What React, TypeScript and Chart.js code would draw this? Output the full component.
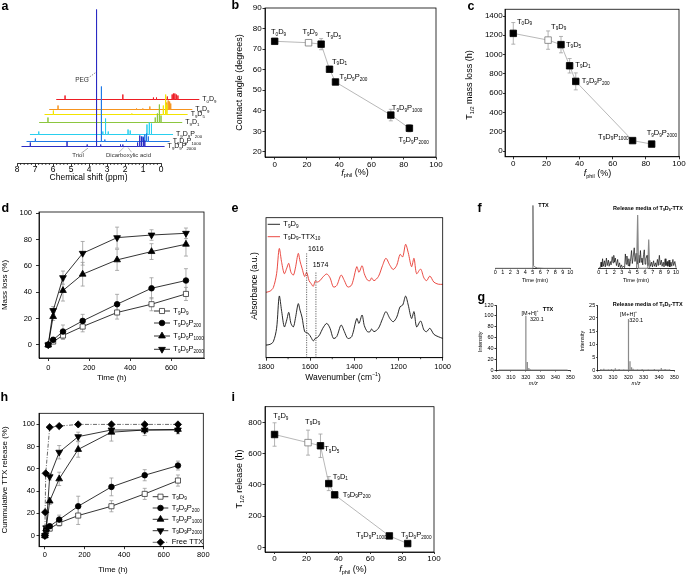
import React, { useEffect, useRef } from 'react';
import { Chart, registerables } from 'chart.js';

Chart.register(...registerables);

const FONT = '"Liberation Sans", Arial, Helvetica, sans-serif';

/* ================= DATA ================= */

/* ---- a : 1H NMR waterfall (bottom trace first) ---- */
const nmrSamples = ['T_{9}D_{9}P_{2000}', 'T_{9}D_{9}P_{1000}', 'T_{9}D_{9}P_{200}', 'T_{9}D_{1}', 'T_{9}D_{5}', 'T_{9}D_{9}', 'T_{0}D_{9}'];
const nmrShiftPpm = [0, 0.28, 0.47, 0.98, 1.28, 1.54, 1.93];
const nmrBaseline = [17, 22, 29, 41, 49, 54, 64];
const nmrSpan = [7.75, -0.2];
const nmrPeaksP2000 = [[7.26, 4], [5.22, 5], [4.1, 2], [3.58, 137], [3.35, 2], [2.25, 2], [2.12, 2], [1.3, 4], [1.18, 11], [1.08, 10], [0.98, 9], [0.9, 6]];
const nmrPeaksP1000 = [[7.26, 3], [3.59, 55], [3.4, 2], [2.2, 2], [1.28, 5], [1.18, 7], [1.08, 8], [0.98, 5]];
const nmrPeaksP200 = [[7.26, 3], [3.7, 3], [3.55, 16], [3.4, 3], [2.3, 5], [2.18, 4], [1.25, 10], [1.12, 12], [1.0, 11]];
const nmrPeaksT9D1 = [[7.26, 5], [1.3, 5], [1.18, 9], [1.07, 18], [0.98, 7]];
const nmrPeaksT9D5 = [[7.26, 4], [2.9, 1], [1.15, 9], [1.02, 20], [0.95, 10]];
const nmrPeaksT9D9 = [[7.26, 4], [2.9, 1], [2.55, 1], [2.16, 3], [1.22, 7], [1.14, 9], [1.06, 8], [1.0, 6]];
const nmrPeaksT0D9 = [[7.26, 4], [4.05, 5], [2.35, 2], [2.18, 2], [1.58, 3], [1.31, 5], [1.24, 6], [1.16, 6], [1.08, 5], [0.99, 4]];
const nmrPeakSets = [nmrPeaksP2000, nmrPeaksP1000, nmrPeaksP200, nmrPeaksT9D1, nmrPeaksT9D5, nmrPeaksT9D9, nmrPeaksT0D9];

/* ---- b, c, i ---- */
const sampleNames = ['T_{0}D_{9}', 'T_{9}D_{9}', 'T_{9}D_{5}', 'T_{9}D_{1}', 'T_{9}D_{9}P_{200}', 'T_{9}D_{9}P_{1000}', 'T_{9}D_{9}P_{2000}'];
const fPhil = [0, 21, 28.8, 34, 37.7, 72, 83.5];
const contactAngle = [73.8, 73.1, 72.4, 60.2, 54.0, 37.9, 31.5];
const contactAngleErr = [0.8, 0.8, 2.7, 0.8, 1.2, 2.8, 1.8];
const t12MassLoss = [1220, 1150, 1103, 884, 722, 108, 72];
const t12MassLossErr = [112, 95, 85, 75, 88, 12, 8];
const t12Release = [722, 670, 650, 408, 336, 73, 24];
const t12ReleaseErr = [75, 80, 75, 45, 15, 8, 6];

/* ---- d : mass loss ---- */
const massTimeH = [0, 24, 72, 168, 336, 504, 672];
const massLossT9D9 = [0, 2.5, 7.1, 13.9, 24.6, 30.9, 38.7];
const massLossP200 = [0, 3.8, 10.1, 18.2, 30.9, 43.0, 48.9];
const massLossP1000 = [0, 21.5, 41.3, 53.7, 64.6, 70.9, 76.5];
const massLossP2000 = [0, 26.1, 51.1, 69.6, 81.5, 83.5, 84.8];
const massErrT9D9 = [0.5, 1.5, 3, 4, 5, 5, 5];
const massErrP200 = [0.5, 2, 5, 5, 7.5, 8, 9];
const massErrP1000 = [0.5, 3, 8, 9, 8, 6, 9];
const massErrP2000 = [0.5, 3, 5, 9, 8, 4, 4];
const legendNames = ['T_{9}D_{9}', 'T_{9}D_{9}P_{200}', 'T_{9}D_{9}P_{1000}', 'T_{9}D_{9}P_{2000}', 'Free TTX'];

/* ---- e : FTIR ---- */
const irBlack = [[1800, 9], [1782, 9.5], [1767, 11.4], [1752, 21], [1740, 44], [1729, 33], [1717, 22], [1706, 27], [1697, 32.4], [1687, 24.5], [1676, 22], [1667, 28], [1654, 38.6], [1646, 34], [1637, 29], [1625, 18.6], [1616, 18], [1605, 16.7], [1596, 14.5], [1586, 12], [1577, 13.8], [1568, 14.3], [1556, 16.7], [1543, 21], [1525, 24.5], [1510, 21], [1495, 13.8], [1480, 15], [1460, 23.3], [1445, 18.6], [1430, 13.8], [1412, 15], [1389, 28], [1379, 24.5], [1365, 30.5], [1355, 23], [1341, 18.6], [1329, 18.6], [1322, 20.5], [1311, 18.6], [1291, 21], [1272, 28], [1257, 32.9], [1239, 28], [1224, 25.7], [1208, 29], [1193, 36.4], [1181, 37.6], [1168, 44], [1156, 37.6], [1141, 28], [1130, 32.9], [1118, 22], [1100, 26.2], [1085, 19.8], [1073, 18.6], [1058, 21], [1040, 16.7], [1020, 15], [1000, 13.8]];
const irRed = [[1800, 46.7], [1782, 47.5], [1767, 50], [1752, 60], [1740, 78], [1729, 68], [1717, 60], [1706, 64], [1697, 67.4], [1687, 61], [1676, 59], [1667, 64], [1654, 74.5], [1646, 69], [1637, 64], [1625, 58], [1616, 61], [1605, 55], [1596, 53], [1586, 51], [1577, 54.8], [1568, 54], [1556, 55], [1543, 57.5], [1525, 59.8], [1510, 57], [1495, 50.5], [1480, 51.5], [1460, 59], [1445, 55], [1430, 50.5], [1412, 52], [1389, 65], [1379, 61], [1365, 65.7], [1355, 60], [1341, 55.5], [1329, 55], [1322, 57], [1311, 55], [1291, 58], [1272, 66], [1257, 71], [1239, 66], [1224, 63], [1208, 66], [1193, 73.8], [1181, 72], [1168, 81], [1156, 75], [1141, 65], [1130, 71], [1118, 60], [1100, 63.3], [1085, 57], [1073, 55], [1058, 58.3], [1040, 54], [1020, 52.5], [1000, 52.4]];
const irMarks = [1616, 1574];
const irMarkTop = [74.5, 61.4];

/* ---- f : chromatograms ---- */
const fTTX = [[0, 0], [4.95, 0], [5.02, 92], [5.1, 4], [5.25, 2], [5.6, 0.5], [6.5, 0], [10, 0]];
const fReleaseMain = [[4.9, 0], [5.04, 78], [5.15, 0], [6.35, 0], [6.47, 42], [6.58, 0]];
const fReleaseNoise = [[0, 0], [0.2, 1], [0.3, 9], [0.4, 2], [0.5, 14], [0.6, 3], [0.75, 11], [0.85, 2], [1.0, 15], [1.1, 4], [1.25, 12], [1.35, 3], [1.5, 10], [1.6, 5], [1.75, 17], [1.85, 8], [1.95, 19], [2.05, 9], [2.15, 15], [2.3, 4], [2.45, 13], [2.55, 2], [2.7, 8], [2.8, 1], [2.95, 5], [3.05, 1], [3.2, 3], [3.35, 1], [3.45, 21], [3.55, 6], [3.65, 18], [3.8, 4], [3.9, 14], [4.0, 3], [4.1, 10], [4.25, 26], [4.35, 7], [4.45, 16], [4.6, 30], [4.7, 10], [4.85, 22], [4.95, 6], [5.2, 19], [5.3, 8], [5.4, 26], [5.5, 9], [5.6, 15], [5.7, 5], [5.8, 20], [5.9, 27], [6.0, 6], [6.1, 14], [6.25, 19], [6.35, 4], [6.6, 12], [6.7, 3], [6.85, 9], [6.95, 2], [7.1, 11], [7.2, 3], [7.35, 8], [7.45, 2], [7.6, 13], [7.7, 4], [7.85, 19], [7.95, 5], [8.1, 12], [8.2, 3], [8.35, 9], [8.45, 2], [8.6, 14], [8.7, 4], [8.85, 10], [8.95, 3], [9.1, 12], [9.2, 2], [9.35, 9], [9.45, 3], [9.6, 13], [9.7, 4], [9.85, 10], [10, 1]];

/* ---- g : mass spectra ---- */
const gTTX = [[302, 0.4], [305, 0.6], [308, 0.4], [311, 0.5], [314, 0.4], [317, 0.6], [320.1, 100], [321.1, 15], [322.1, 3.5], [323.1, 1.5], [325, 0.6], [328, 0.4], [331, 0.5], [334, 0.4], [337, 0.6], [340, 0.5], [342, 0.9], [345, 0.4], [348, 0.5]];
const gRelease = [[302, 0.35], [304, 0.5], [307, 0.3], [309, 0.4], [311.5, 0.7], [314, 0.4], [317, 0.3], [320.1, 19.6], [321.1, 3.4], [322.1, 1.1], [323.1, 0.5], [326, 0.3], [329, 0.4], [333, 0.3], [337, 0.4], [341.5, 0.8], [344, 0.4], [347, 0.3]];

/* ---- h : cumulative release ---- */
const relTimeH = [0, 6, 24, 72, 168, 336, 504, 672];
const relT9D9 = [0, 4, 6.3, 11.4, 18, 26.4, 37.5, 49.5];
const relP200 = [0, 5, 8.4, 14.4, 26.4, 43.8, 54.3, 63];
const relP1000 = [0, 6, 31, 51, 77.5, 93, 95, 95.5];
const relP2000 = [0, 7, 53, 75, 89, 95, 95, 95];
const relErrT9D9 = [0, 1, 2, 3, 8, 5, 5, 5];
const relErrP200 = [0, 1, 2, 4, 9, 8, 5, 4];
const relErrP1000 = [0, 1, 3, 6, 7, 8, 5, 4];
const relErrP2000 = [0, 1, 3, 6, 4, 3, 3, 3];
const freeTimeH = [0, 1, 4, 24, 72, 168, 336, 504, 672];
const relFree = [0, 21, 56, 97.5, 98.5, 100, 100, 100, 100];

/* ================= STYLES ================= */
const nmrColors = ['#2b2bc4', '#1e78e6', '#29cfee', '#8cc63f', '#f2e400', '#f7941d', '#ed1c24'];
const openMask = [false, true, false, false, false, false, false];

/* ================= HELPERS ================= */
type Seg = { text: string; sub?: boolean; sup?: boolean; italic?: boolean };
function parseRich(s: string): Seg[] {
  const out: Seg[] = [];
  let buf = '';
  let i = 0;
  const flush = () => { if (buf) { out.push({ text: buf }); buf = ''; } };
  while (i < s.length) {
    const c = s[i];
    if ((c === '_' || c === '^' || c === '~') && s[i + 1] === '{') {
      flush();
      const end = s.indexOf('}', i + 2);
      out.push({ text: s.slice(i + 2, end), sub: c === '_', sup: c === '^', italic: c === '~' });
      i = end + 1;
    } else { buf += c; i++; }
  }
  flush();
  return out;
}

function drawRich(ctx: any, s: string, x: number, y: number, o: any) {
  const size = o.size ?? 8;
  const segs = parseRich(s);
  const fontOf = (g: Seg) => `${g.italic ? 'italic ' : ''}${o.bold ? 'bold ' : ''}${(g.sub || g.sup) ? size * 0.62 : size}px ${FONT}`;
  let w = 0;
  const widths = segs.map((g) => { ctx.font = fontOf(g); const m = ctx.measureText(g.text).width; w += m; return m; });
  ctx.save();
  ctx.translate(x, y);
  if (o.rot) ctx.rotate(-Math.PI / 2);
  ctx.fillStyle = o.color || '#000';
  ctx.textBaseline = o.baseline || 'middle';
  ctx.textAlign = 'left';
  const align = o.align || 'center';
  let cx = align === 'center' ? -w / 2 : align === 'right' ? -w : 0;
  segs.forEach((g, k) => {
    ctx.font = fontOf(g);
    const dy = g.sub ? size * 0.3 : g.sup ? -size * 0.38 : 0;
    ctx.fillText(g.text, cx, dy);
    cx += widths[k];
  });
  ctx.restore();
}

function drawMarker(ctx: any, style: string, x: number, y: number, r: number, fill: string, stroke: string) {
  ctx.beginPath();
  if (style === 'rect') { const s = r * Math.SQRT1_2; ctx.rect(x - s, y - s, 2 * s, 2 * s); }
  else if (style === 'circle') ctx.arc(x, y, r, 0, Math.PI * 2);
  else if (style === 'triangle') { ctx.moveTo(x, y - r); ctx.lineTo(x + r * 0.866, y + r * 0.5); ctx.lineTo(x - r * 0.866, y + r * 0.5); ctx.closePath(); }
  else if (style === 'triangleDown') { ctx.moveTo(x, y + r); ctx.lineTo(x + r * 0.866, y - r * 0.5); ctx.lineTo(x - r * 0.866, y - r * 0.5); ctx.closePath(); }
  else if (style === 'rectRot') { ctx.moveTo(x, y - r); ctx.lineTo(x + r, y); ctx.lineTo(x, y + r); ctx.lineTo(x - r, y); ctx.closePath(); }
  ctx.fillStyle = fill; ctx.fill();
  ctx.strokeStyle = stroke; ctx.lineWidth = 0.8; ctx.stroke();
}

const decoPlugin = {
  id: 'deco',
  beforeDatasetsDraw(chart: any) {
    const ctx = chart.ctx;
    chart.data.datasets.forEach((ds: any, i: number) => {
      if (!ds.errorBars) return;
      const meta = chart.getDatasetMeta(i);
      const ys = chart.scales.y;
      ctx.save();
      ctx.strokeStyle = ds.errorColor || '#9a9a9a';
      ctx.lineWidth = 0.8;
      meta.data.forEach((el: any, j: number) => {
        const e = ds.errorBars[j];
        if (!e) return;
        const v = ds.data[j].y;
        const y1 = ys.getPixelForValue(v + e);
        const y2 = ys.getPixelForValue(v - e);
        const c = 2;
        ctx.beginPath();
        ctx.moveTo(el.x, y1); ctx.lineTo(el.x, y2);
        ctx.moveTo(el.x - c, y1); ctx.lineTo(el.x + c, y1);
        ctx.moveTo(el.x - c, y2); ctx.lineTo(el.x + c, y2);
        ctx.stroke();
      });
      ctx.restore();
    });
  },
  afterDraw(chart: any) {
    const o = chart.options.plugins.deco;
    if (!o) return;
    const ctx = chart.ctx;
    const [ox, oy] = o.origin;
    const ca = chart.chartArea;
    const sx = chart.scales.x;
    const sy = chart.scales.y;
    ctx.save();
    if (o.frame) {
      ctx.strokeStyle = '#000'; ctx.lineWidth = 0.8;
      ctx.strokeRect(ca.left, ca.top, ca.right - ca.left, ca.bottom - ca.top);
    }
    if (o.minor) {
      ctx.strokeStyle = '#000'; ctx.lineWidth = 0.7;
      const doAxis = (sc: any, step: number, isX: boolean) => {
        const majors = sc.ticks.map((t: any) => t.value);
        const lo = Math.min(sc.min, sc.max);
        const hi = Math.max(sc.min, sc.max);
        ctx.beginPath();
        for (let k = Math.ceil(lo / step - 1e-9); k * step <= hi + 1e-9; k++) {
          const v = k * step;
          if (majors.some((m: number) => Math.abs(m - v) < step * 1e-3)) continue;
          const p = sc.getPixelForValue(v);
          if (isX) { ctx.moveTo(p, ca.bottom); ctx.lineTo(p, ca.bottom + 1.5); }
          else { ctx.moveTo(ca.left, p); ctx.lineTo(ca.left - 1.5, p); }
        }
        ctx.stroke();
      };
      if (o.minor.x) doAxis(sx, o.minor.x, true);
      if (o.minor.y) doAxis(sy, o.minor.y, false);
    }
    (o.segs || []).forEach((s: any) => {
      ctx.save();
      ctx.strokeStyle = s.color || '#000';
      ctx.lineWidth = s.width || 0.7;
      ctx.setLineDash(s.dash || []);
      ctx.beginPath();
      ctx.moveTo(sx.getPixelForValue(s.x1), sy.getPixelForValue(s.y1));
      ctx.lineTo(sx.getPixelForValue(s.x2), sy.getPixelForValue(s.y2));
      ctx.stroke();
      ctx.restore();
    });
    chart.data.datasets.forEach((ds: any, i: number) => {
      const meta = chart.getDatasetMeta(i);
      if (ds.pointLabels && o.labelOffsets) {
        ds.pointLabels.forEach((t: string, j: number) => {
          const off = o.labelOffsets[j];
          const el = meta.data[j];
          drawRich(ctx, t, el.x + off[0], el.y + off[1], { size: 7.5, align: off[2] || 'left' });
        });
      }
      if (ds.endLabel) {
        const el = meta.data[meta.data.length - 1];
        drawRich(ctx, ds.endLabel, el.x + 3, el.y, { size: 7, align: 'left', color: '#111' });
      }
    });
    if (o.legend) {
      const L = o.legend;
      L.items.forEach((it: any, k: number) => {
        const y = L.ys[k] - oy;
        ctx.save();
        ctx.strokeStyle = it.color || '#000';
        ctx.lineWidth = it.lw || 0.8;
        ctx.setLineDash(it.dash || []);
        ctx.beginPath(); ctx.moveTo(L.x1 - ox, y); ctx.lineTo(L.x2 - ox, y); ctx.stroke();
        ctx.restore();
        if (it.style) drawMarker(ctx, it.style, (L.x1 + L.x2) / 2 - ox, y, it.r, it.open ? '#fff' : '#000', it.open ? '#333' : '#000');
        drawRich(ctx, it.label, L.tx - ox, y, { size: L.size || 7.5, align: 'left' });
      });
    }
    (o.texts || []).forEach((t: any) => drawRich(ctx, t.t, t.x - ox, t.y - oy, t));
    ctx.restore();
  },
};

function scaleOf(axis: 'x' | 'y', o: any) {
  const shown = o.display !== false;
  return {
    type: 'linear',
    display: shown,
    min: o.min,
    max: o.max,
    reverse: !!o.reverse,
    afterBuildTicks: (s: any) => {
      if (!o.step) return;
      const lo = Math.min(o.min, o.max);
      const hi = Math.max(o.min, o.max);
      const out: any[] = [];
      for (let k = Math.ceil(lo / o.step - 1e-9); k * o.step <= hi + 1e-9; k++) out.push({ value: Math.round(k * o.step * 1e6) / 1e6 });
      s.ticks = out;
    },
    ticks: {
      display: o.labels !== false, autoSkip: false,
      maxRotation: 0, minRotation: 0, color: '#000', font: { family: FONT, size: o.size ?? 8 }, padding: o.pad ?? 0.5,
      callback: (v: any) => String(v),
    },
    grid: { display: true, drawOnChartArea: false, drawTicks: true, tickLength: o.tick ?? 2.5, color: '#000', lineWidth: 0.8 },
    border: { display: true, color: '#000', width: 0.8 },
    afterFit: (s: any) => {
      if (!shown) return;
      if (axis === 'x') s.height = o.fit; else s.width = o.fit;
      s.paddingLeft = 0; s.paddingRight = 0; s.paddingTop = 0; s.paddingBottom = 0;
    },
  };
}

function makeConfig(box: any, area: any, xs: any, ys: any, datasets: any[], deco: any) {
  const xShown = xs.display !== false;
  const yShown = ys.display !== false;
  const padding = {
    left: yShown ? 0 : area.l - box.x,
    top: area.t - box.y,
    right: box.x + box.w - area.r,
    bottom: xShown ? 0 : box.y + box.h - area.b,
  };
  return {
    type: 'scatter',
    data: { datasets },
    options: {
      animation: false, responsive: false, maintainAspectRatio: false, devicePixelRatio: 1, events: [],
      layout: { padding, autoPadding: false },
      plugins: { legend: { display: false }, tooltip: { enabled: false }, deco: { origin: [box.x, box.y], ...deco } },
      scales: {
        x: scaleOf('x', { ...xs, fit: box.y + box.h - area.b }),
        y: scaleOf('y', { ...ys, fit: area.l - box.x }),
      },
    },
    plugins: [decoPlugin],
  };
}

const toPts = (xs: number[], ys: number[]) => xs.map((x, i) => ({ x, y: ys[i] }));
const pairPts = (arr: number[][]) => arr.map(([x, y]) => ({ x, y }));
const sticks = (arr: number[][]) => {
  const out: any[] = [];
  arr.forEach(([x, y]) => out.push({ x, y: 0 }, { x, y }, { x, y: 0 }));
  return out;
};
function nmrTrace(peaks: number[][], shift: number, base: number) {
  const pts: any[] = [{ x: nmrSpan[0] - shift, y: base }];
  [...peaks].sort((a, b) => b[0] - a[0]).forEach(([p, h]) => {
    pts.push({ x: p - shift, y: base }, { x: p - shift, y: base + h }, { x: p - shift, y: base });
  });
  pts.push({ x: nmrSpan[1] - shift, y: base });
  return pts;
}

function lineDs(data: any[], color: string, width: number, extra: any = {}) {
  return { data, showLine: true, borderColor: color, borderWidth: width, pointRadius: 0, tension: 0, clip: false, ...extra };
}

function summaryDs(ys: number[], errs: number[]) {
  return {
    data: toPts(fPhil, ys), showLine: true, borderColor: '#a6a6a6', borderWidth: 0.8, tension: 0, clip: false,
    pointStyle: 'rect', pointRadius: 4.6,
    pointBackgroundColor: openMask.map((m) => (m ? '#fff' : '#000')),
    pointBorderColor: openMask.map((m) => (m ? '#777' : '#000')),
    pointBorderWidth: 0.8,
    errorBars: errs, errorColor: '#a0a0a0', pointLabels: sampleNames,
  };
}

const MARK: any = {
  T9D9: { style: 'rect', r: 3.6, open: true },
  P200: { style: 'circle', r: 2.8 },
  P1000: { style: 'triangle', r: 3.9 },
  P2000: { style: 'triangleDown', r: 3.9 },
  Free: { style: 'rectRot', r: 3.6 },
};

function kineticDs(xs: number[], ys: number[], errs: number[], key: string, extra: any = {}) {
  const m = MARK[key];
  return {
    data: toPts(xs, ys), showLine: true, borderColor: '#000', borderWidth: 0.8, tension: 0, clip: false,
    pointStyle: m.style === 'triangleDown' ? 'triangle' : m.style,
    pointRotation: m.style === 'triangleDown' ? 180 : 0,
    pointRadius: m.r, pointBackgroundColor: m.open ? '#fff' : '#000', pointBorderColor: m.open ? '#333' : '#000',
    pointBorderWidth: 0.8, errorBars: errs, errorColor: '#9a9a9a', ...extra,
  };
}

const letter = (t: string, x: number, y: number) => ({ t, x, y, size: 12.5, bold: true, align: 'left', baseline: 'alphabetic' });

function buildPanels() {
  const P: any[] = [];

  /* a */
  {
    const box = { x: 0, y: 0, w: 228, h: 192 };
    const ds = nmrPeakSets.map((pk, i) => lineDs(nmrTrace(pk, nmrShiftPpm[i], nmrBaseline[i]), nmrColors[i], 1, { endLabel: nmrSamples[i] }));
    P.push({ box, cfg: makeConfig(box, { l: 17, t: 5.5, r: 161, b: 163.5 },
      { min: 0, max: 8, step: 1, reverse: true, size: 8.5, tick: 2.5, pad: -1.5 },
      { display: false, min: 0, max: 158 }, ds, {
        minor: { x: 0.2 },
        segs: [
          { x1: 4.08, y1: 85, x2: 3.63, y2: 91, dash: [1.5, 1.2], color: '#555' },
          { x1: 4.43, y1: 10.3, x2: 4.06, y2: 15.3, color: '#555', width: 0.5 },
          { x1: 2.33, y1: 11.3, x2: 2.07, y2: 16, color: '#777', width: 0.5 },
          { x1: 1.64, y1: 11.3, x2: 1.83, y2: 16, color: '#777', width: 0.5 },
        ],
        texts: [
          letter('a', 1.5, 9.5),
          { t: 'Chemical shift (ppm)', x: 88.5, y: 178, size: 8.5 },
          { t: 'PEG', x: 82, y: 80, size: 6.5, color: '#333' },
          { t: 'Triol', x: 78, y: 155, size: 6, color: '#333' },
          { t: 'Dicarboxylic acid', x: 128.5, y: 155, size: 6, color: '#333' },
        ],
      }) });
  }

  /* b */
  {
    const box = { x: 230, y: 0, w: 226, h: 190 };
    P.push({ box, cfg: makeConfig(box, { l: 265, t: 8, r: 436, b: 157 },
      { min: -6, max: 100, step: 20, size: 8, tick: 2.5, pad: 0 },
      { min: 17.5, max: 90, step: 10, size: 8, tick: 2.5, pad: 0.8 },
      [summaryDs(contactAngle, contactAngleErr)], {
        frame: true,
        labelOffsets: [[-3.7, -9.3], [1.4, -10.7, 'center'], [4.8, -9.2], [2.5, -7.3], [4, -5], [1, -7], [-11, 12]],
        texts: [
          letter('b', 231.5, 8.5),
          { t: 'Contact angle (degrees)', x: 240, y: 82.5, size: 9, rot: true },
          { t: '~{f}_{phil} (%)', x: 355, y: 173, size: 9 },
        ],
      }) });
  }

  /* c */
  {
    const box = { x: 456, y: 0, w: 230, h: 190 };
    P.push({ box, cfg: makeConfig(box, { l: 505, t: 9.25, r: 679, b: 156.8 },
      { min: -5, max: 100, step: 20, size: 8, tick: 2.5, pad: 0 },
      { min: -60, max: 1470, step: 200, size: 8, tick: 2, pad: 0.3 },
      [summaryDs(t12MassLoss, t12MassLossErr)], {
        frame: true,
        labelOffsets: [[3.7, -11.7], [3, -13.4], [5, 0], [5.7, -0.8], [6, 0], [-4, -4, 'right'], [-5, -11]],
        texts: [
          letter('c', 467.5, 10),
          { t: 'T_{1/2} mass loss (h)', x: 469.5, y: 85, size: 9, rot: true },
          { t: '~{f}_{phil} (%)', x: 597.5, y: 173.3, size: 9 },
        ],
      }) });
  }

  /* d */
  {
    const box = { x: 0, y: 195, w: 228, h: 190 };
    P.push({ box, cfg: makeConfig(box, { l: 39, t: 212, r: 204, b: 358 },
      { min: -45, max: 760, step: 200, size: 7.5, tick: 3, pad: 2.5 },
      { min: -10, max: 101, step: 20, size: 7.5, tick: 3, pad: 4 },
      [
        kineticDs(massTimeH, massLossP2000, massErrP2000, 'P2000'),
        kineticDs(massTimeH, massLossP1000, massErrP1000, 'P1000'),
        kineticDs(massTimeH, massLossP200, massErrP200, 'P200'),
        kineticDs(massTimeH, massLossT9D9, massErrT9D9, 'T9D9'),
      ], {
        frame: true,
        legend: {
          x1: 154, x2: 170, tx: 173.3, ys: [311, 323, 336, 349.3], size: 7.5,
          items: [
            { label: legendNames[0], ...MARK.T9D9 },
            { label: legendNames[1], ...MARK.P200 },
            { label: legendNames[2], ...MARK.P1000 },
            { label: legendNames[3], ...MARK.P2000 },
          ],
        },
        texts: [
          letter('d', 1.5, 211.5),
          { t: 'Mass loss (%)', x: 5, y: 285, size: 8, rot: true },
          { t: 'Time (h)', x: 111.7, y: 378, size: 8 },
        ],
      }) });
  }

  /* e */
  {
    const box = { x: 230, y: 195, w: 228, h: 190 };
    P.push({ box, cfg: makeConfig(box, { l: 266, t: 217.7, r: 442.7, b: 357.7 },
      { min: 1000, max: 1800, step: 200, reverse: true, size: 7.5, tick: 3, pad: 2 },
      { display: false, min: 0, max: 100 },
      [
        lineDs(pairPts(irRed), '#e8372f', 0.9, { tension: 0.3 }),
        lineDs(pairPts(irBlack), '#111', 0.9, { tension: 0.3 }),
      ], {
        frame: true,
        minor: { x: 100 },
        segs: irMarks.map((m, k) => ({ x1: m, y1: 0, x2: m, y2: irMarkTop[k], dash: [1.2, 1.2], color: '#222', width: 0.7 })),
        legend: {
          x1: 267.7, x2: 280, tx: 283.3, ys: [224.3, 236.7], size: 7.5,
          items: [
            { label: 'T_{9}D_{9}', color: '#111', lw: 0.9 },
            { label: 'T_{9}D_{9}-TTX_{10}', color: '#e8372f', lw: 0.9 },
          ],
        },
        texts: [
          letter('e', 231.5, 211.5),
          { t: String(irMarks[0]), x: 308, y: 249.3, size: 7, align: 'left' },
          { t: String(irMarks[1]), x: 312.7, y: 265, size: 7, align: 'left' },
          { t: 'Absorbance (a.u.)', x: 255, y: 286, size: 8.5, rot: true },
          { t: 'Wavenumber (cm^{\u22121})', x: 343, y: 377.7, size: 8.5 },
        ],
      }) });
  }

  /* f left */
  {
    const box = { x: 456, y: 195, w: 120, h: 92 };
    P.push({ box, cfg: makeConfig(box, { l: 495.3, t: 200, r: 570.3, b: 268.3 },
      { min: 0, max: 10, step: 1, size: 5.5, tick: 1, pad: 0 },
      { display: false, min: 0, max: 100 },
      [lineDs(pairPts(fTTX), '#777', 1)], {
        texts: [
          letter('f', 477.5, 211.5),
          { t: 'TTX', x: 543.5, y: 205, size: 5.5, bold: true },
          { t: 'Time (min)', x: 535, y: 280.7, size: 5.5 },
        ],
      }) });
  }
  /* f right */
  {
    const box = { x: 578, y: 195, w: 108, h: 92 };
    P.push({ box, cfg: makeConfig(box, { l: 598.7, t: 200, r: 676, b: 268.3 },
      { min: 0, max: 10, step: 1, size: 5.5, tick: 1, pad: 0 },
      { display: false, min: 0, max: 100 },
      [lineDs(pairPts(fReleaseMain), '#8a8a8a', 1.2), lineDs(pairPts(fReleaseNoise), '#111', 0.7)], {
        texts: [
          { t: 'Release media of T_{9}D_{9}-TTX', x: 648, y: 208.3, size: 5.5, bold: true },
          { t: 'Time (min)', x: 636, y: 280.7, size: 5.5 },
        ],
      }) });
  }

  /* g left */
  {
    const box = { x: 456, y: 287, w: 122, h: 100 };
    P.push({ box, cfg: makeConfig(box, { l: 496, t: 305, r: 570.3, b: 370 },
      { min: 300, max: 350, step: 10, size: 5.5, tick: 1.5, pad: 2.5 },
      { min: 0, max: 120, step: 20, size: 5.5, tick: 1.5, pad: 1 },
      [lineDs(sticks(gTTX), '#8a8a8a', 1.2)], {
        texts: [
          letter('g', 477.5, 301),
          { t: '[M+H]^{+}', x: 530, y: 313.3, size: 5.5 },
          { t: '320.1', x: 530, y: 319.3, size: 5.5, align: 'left' },
          { t: 'TTX', x: 548, y: 309.3, size: 5.5, bold: true },
          { t: 'Intensity', x: 480, y: 341.7, size: 5.5, rot: true },
          { t: '~{m/z}', x: 533.3, y: 383, size: 5.5 },
        ],
      }) });
  }
  /* g right */
  {
    const box = { x: 578, y: 287, w: 108, h: 100 };
    P.push({ box, cfg: makeConfig(box, { l: 597.7, t: 305, r: 674.3, b: 370 },
      { min: 300, max: 350, step: 10, size: 5.5, tick: 1.5, pad: 2.5 },
      { min: 0, max: 25, step: 5, size: 5.5, tick: 1.5, pad: 1 },
      [lineDs(sticks(gRelease), '#8a8a8a', 1.2)], {
        texts: [
          { t: 'Release media of T_{9}D_{9}-TTX', x: 647.7, y: 304, size: 5.5, bold: true },
          { t: '[M+H]^{+}', x: 628.5, y: 314.3, size: 5.5 },
          { t: '320.1', x: 629.3, y: 320, size: 5.5, align: 'left' },
          { t: 'Intensity', x: 582, y: 341, size: 5.5, rot: true },
          { t: '~{m/z}', x: 636, y: 383, size: 5.5 },
        ],
      }) });
  }

  /* h */
  {
    const box = { x: 0, y: 380, w: 228, h: 195 };
    P.push({ box, cfg: makeConfig(box, { l: 39, t: 413.3, r: 203.3, b: 546.7 },
      { min: -30, max: 800, step: 200, size: 7.5, tick: 2.5, pad: 1 },
      { min: -10, max: 110, step: 20, size: 7.5, tick: 2.5, pad: 1.5 },
      [
        kineticDs(freeTimeH, relFree, [], 'Free', { borderDash: [4, 1.5, 1, 1.5], borderColor: '#444' }),
        kineticDs(relTimeH, relP2000, relErrP2000, 'P2000'),
        kineticDs(relTimeH, relP1000, relErrP1000, 'P1000'),
        kineticDs(relTimeH, relP200, relErrP200, 'P200'),
        kineticDs(relTimeH, relT9D9, relErrT9D9, 'T9D9'),
      ], {
        frame: true,
        legend: {
          x1: 152.7, x2: 168.3, tx: 171.7, ys: [496.7, 508, 519.3, 530.7, 542.3], size: 7.5,
          items: [
            { label: legendNames[0], ...MARK.T9D9 },
            { label: legendNames[1], ...MARK.P200 },
            { label: legendNames[2], ...MARK.P1000 },
            { label: legendNames[3], ...MARK.P2000 },
            { label: legendNames[4], ...MARK.Free, dash: [4, 1.5, 1, 1.5], color: '#444' },
          ],
        },
        texts: [
          letter('h', 0.5, 400.5),
          { t: 'Cummulative TTX release (%)', x: 5, y: 480, size: 8, rot: true },
          { t: 'Time (h)', x: 113, y: 570, size: 8 },
        ],
      }) });
  }

  /* i */
  {
    const box = { x: 230, y: 380, w: 228, h: 195 };
    P.push({ box, cfg: makeConfig(box, { l: 265, t: 406.7, r: 434, b: 552 },
      { min: -6, max: 100, step: 20, size: 8, tick: 2, pad: 0 },
      { min: -30, max: 900, step: 200, size: 8, tick: 2.5, pad: 0.8 },
      [summaryDs(t12Release, t12ReleaseErr)], {
        frame: true,
        labelOffsets: [[-1.3, -18.5], [-3, -21], [3.8, 3.6], [4, -6.8], [8, 0], [-2.7, -0.6, 'right'], [-6.7, -8.2]],
        texts: [
          letter('i', 231.5, 400.5),
          { t: 'T_{1/2} release (h)', x: 240, y: 479, size: 9, rot: true },
          { t: '~{f}_{phil} (%)', x: 353, y: 569.3, size: 9 },
        ],
      }) });
  }
  return P;
}

export default function App() {
  const panels = useRef<any[]>(buildPanels());
  const refs = useRef<(HTMLCanvasElement | null)[]>([]);
  useEffect(() => {
    const fresh = buildPanels();
    const charts = fresh.map((p, i) => new Chart(refs.current[i] as HTMLCanvasElement, p.cfg as any));
    return () => charts.forEach((c) => c.destroy());
  }, []);
  return (
    <div style={{ position: 'absolute', left: 0, top: 0, width: 686, height: 575, background: '#fff', overflow: 'hidden' }}>
      {panels.current.map((p, i) => (
        <canvas
          key={i}
          ref={(el) => { refs.current[i] = el; }}
          width={p.box.w}
          height={p.box.h}
          style={{ position: 'absolute', left: p.box.x, top: p.box.y, width: p.box.w, height: p.box.h }}
        />
      ))}
    </div>
  );
}
